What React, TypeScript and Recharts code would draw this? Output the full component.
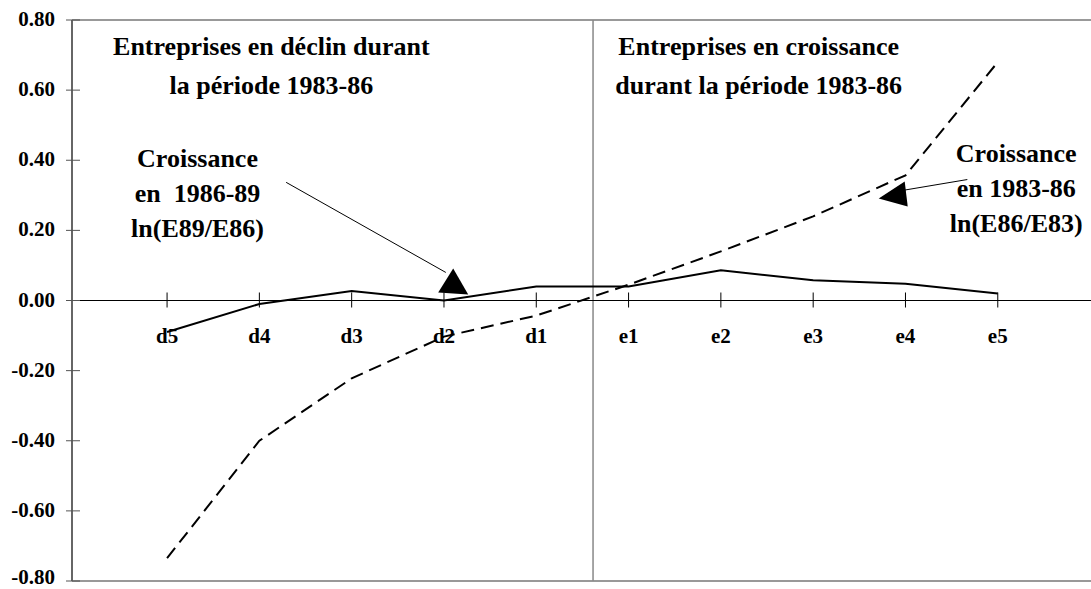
import {
  LineChart,
  Line,
  XAxis,
  YAxis,
  Scatter,
  ReferenceLine,
  ReferenceDot,
} from 'recharts';

const categories = ['d5', 'd4', 'd3', 'd2', 'd1', 'e1', 'e2', 'e3', 'e4', 'e5'];
const growth8689 = [-0.09, -0.01, 0.027, 0.0, 0.04, 0.04, 0.086, 0.058, 0.048, 0.02];
const growth8386 = [-0.735, -0.4, -0.222, -0.103, -0.043, 0.045, 0.14, 0.24, 0.357, 0.68];
const yTicks = [-0.8, -0.6, -0.4, -0.2, 0, 0.2, 0.4, 0.6, 0.8];

const groupTitles = [
  { x: 1.13, y: 0.7, lines: ['Entreprises en déclin durant', 'la période 1983-86'] },
  { x: 6.41, y: 0.7, lines: ['Entreprises en croissance', 'durant la période 1983-86'] },
];
const seriesNotes = [
  { x: 0.33, y: 0.382, lines: ['Croissance', 'en  1986-89', 'ln(E89/E86)'] },
  { x: 9.2, y: 0.394, lines: ['Croissance', 'en 1983-86', 'ln(E86/E83)'] },
];
// arrow shafts [from, to] and arrow heads (tip point)
const arrows = [
  { from: { x: 1.29, y: 0.337 }, to: { x: 3.02, y: 0.08 }, tip: { x: 3.1, y: 0.091 }, head: 'up' },
  { from: { x: 8.67, y: 0.345 }, to: { x: 7.97, y: 0.314 }, tip: { x: 7.71, y: 0.291 }, head: 'left' },
];

const FONT = 'Liberation Serif';
const separatorX = 4.615;
const CHART_H = 589;

const data = categories.map((c, i) => ({
  x: i,
  name: c,
  base: 0,
  g89: growth8689[i],
  g83: growth8386[i],
}));

const XTick = (props: any) => {
  const { cx, cy, payload } = props;
  return (
    <g>
      <line x1={cx} x2={cx} y1={cy - 8} y2={cy + 7} stroke="#000" strokeWidth={1} />
      <text x={cx} y={cy + 42} textAnchor="middle" fontSize={21} fill="#000" fontFamily={FONT} fontWeight="bold">
        {payload.name}
      </text>
    </g>
  );
};

const YTick = (props: any) => {
  const { x, y, payload } = props;
  // keep the lowest label inside the picture
  const ty = Math.min(y + 6, CHART_H - 5);
  return (
    <g>
      <line x1={x - 6} x2={x + 8} y1={y} y2={y} stroke="#555" strokeWidth={1} />
      <text x={x - 17} y={ty} textAnchor="end" fontSize={21} fill="#000" fontFamily={FONT} fontWeight="bold">
        {payload.value.toFixed(2)}
      </text>
    </g>
  );
};

const textBlock = (lines: string[], gap: number) => (props: any) => {
  const { cx, cy } = props;
  return (
    <text x={cx} y={cy} textAnchor="middle" fontSize={26} fill="#000" fontFamily={FONT} fontWeight="bold">
      {lines.map((l, i) => (
        <tspan key={i} x={cx} dy={i === 0 ? 0 : gap} style={{ whiteSpace: 'pre' }}>
          {l}
        </tspan>
      ))}
    </text>
  );
};

const headShape = (dir: string) => (props: any) => {
  const { cx, cy } = props;
  const pts =
    dir === 'up'
      ? `${cx},${cy} ${cx - 15},${cy + 24} ${cx + 15},${cy + 26}`
      : `${cx},${cy} ${cx + 26},${cy - 17} ${cx + 29},${cy + 8}`;
  return <polygon points={pts} fill="#000" />;
};

export default function App() {
  return (
    <div style={{ position: 'absolute', left: 0, top: 0, background: '#fff' }}>
      <LineChart
        width={1091}
        height={CHART_H}
        data={data}
        margin={{ top: 20, right: 0, bottom: 8, left: 0 }}
      >
        <XAxis dataKey="x" type="number" domain={[-1.03, 10.01]} hide allowDataOverflow />
        <YAxis
          type="number"
          domain={[-0.8, 0.8]}
          ticks={yTicks}
          width={72}
          tickSize={0}
          tickMargin={0}
          tickLine={false}
          axisLine={{ stroke: '#666', strokeWidth: 2 }}
          tick={<YTick />}
          interval={0}
        />
        <ReferenceLine y={0.8} stroke="#999" strokeWidth={2} />
        <ReferenceLine y={-0.8} stroke="#999" strokeWidth={2} />
        <ReferenceLine x={separatorX} stroke="#888" strokeWidth={1.5} />
        <ReferenceLine y={0} stroke="#000" strokeWidth={1} />
        <Line dataKey="g89" stroke="#000" strokeWidth={2} dot={false} type="linear" isAnimationActive={false} />
        <Line
          dataKey="g83"
          stroke="#000"
          strokeWidth={2}
          strokeDasharray="13 7"
          dot={false}
          type="linear"
          isAnimationActive={false}
        />
        <Scatter dataKey="base" shape={<XTick />} isAnimationActive={false} />
        {arrows.map((a, i) => (
          <ReferenceLine key={`s${i}`} segment={[a.from, a.to]} stroke="#000" strokeWidth={1} />
        ))}
        {arrows.map((a, i) => (
          <ReferenceDot key={`h${i}`} x={a.tip.x} y={a.tip.y} r={1} shape={headShape(a.head)} />
        ))}
        {groupTitles.map((t, i) => (
          <ReferenceDot key={`g${i}`} x={t.x} y={t.y} r={1} shape={textBlock(t.lines, 39)} />
        ))}
        {seriesNotes.map((t, i) => (
          <ReferenceDot key={`n${i}`} x={t.x} y={t.y} r={1} shape={textBlock(t.lines, 35)} />
        ))}
      </LineChart>
    </div>
  );
}
